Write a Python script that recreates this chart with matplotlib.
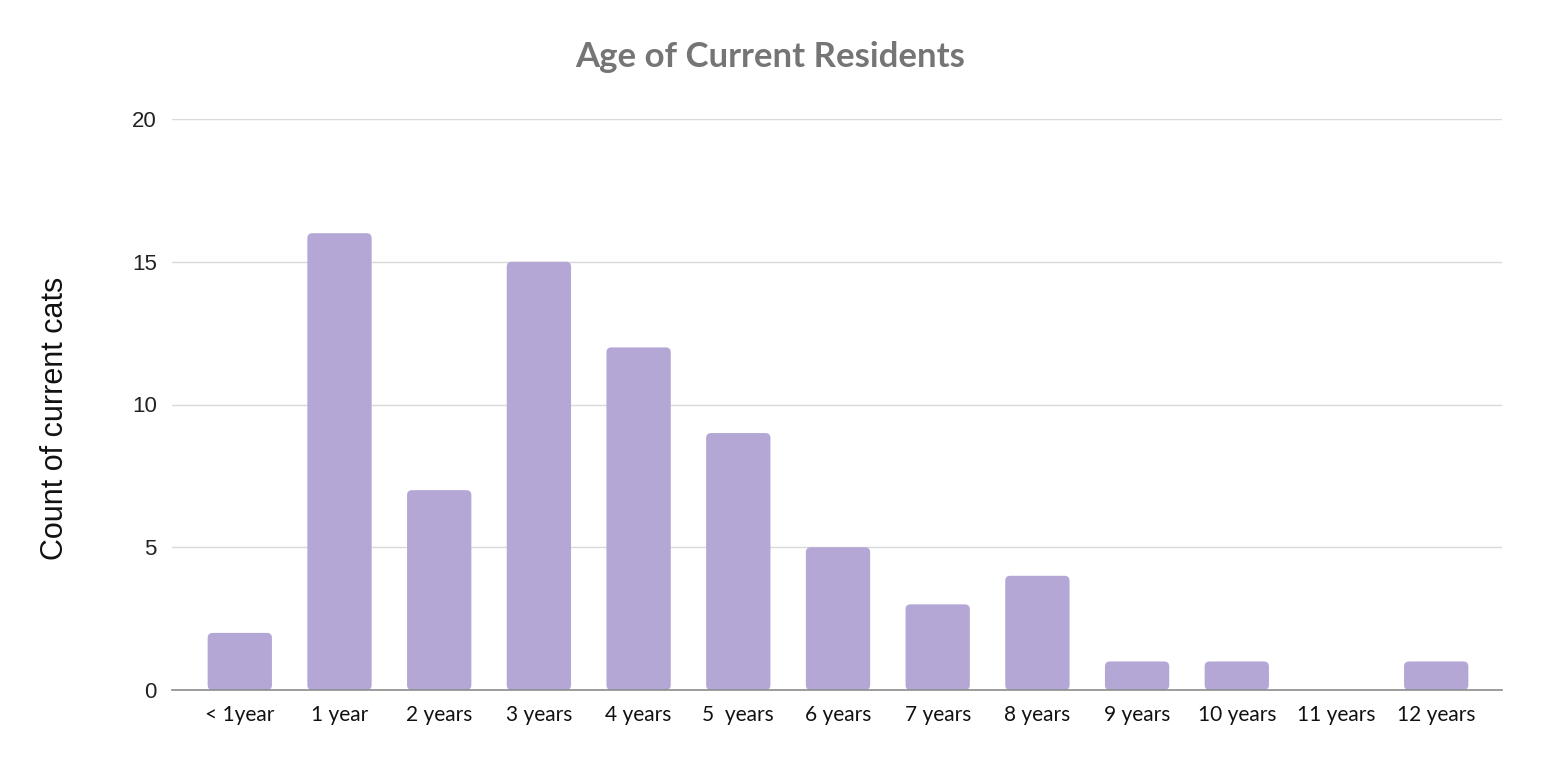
import matplotlib
matplotlib.use("Agg")
import matplotlib.pyplot as plt
from matplotlib.patches import FancyBboxPatch

categories = ["< 1year", "1 year", "2 years", "3 years", "4 years", "5  years", "6 years",
              "7 years", "8 years", "9 years", "10 years", "11 years", "12 years"]
counts = [2, 16, 7, 15, 12, 9, 5, 3, 4, 1, 1, 0, 1]
yticks = [0, 5, 10, 15, 20]

bar_color = "#b4a7d6"

fig = plt.figure(figsize=(15.41, 7.68), dpi=100)
ax = fig.add_axes([172/1541, 78/768, (1502-172)/1541, (690-119)/768])

x = list(range(len(categories)))
bars = ax.bar(x, counts, width=0.645, color=bar_color)
ax.set_xlim(-0.68, len(categories) - 1 + 0.66)
ax.set_ylim(0, 20)

# rounded top corners
xpp = (ax.get_xlim()[1] - ax.get_xlim()[0]) / (1502 - 172)
ypp = 20 / (690 - 119)
for b in bars:
    h = b.get_height()
    if h <= 0:
        b.remove()
        continue
    r = 5 * xpp
    p = FancyBboxPatch((b.get_x(), 0), b.get_width(), h,
                       boxstyle=f"round,pad=0,rounding_size={r}",
                       mutation_aspect=ypp / xpp,
                       facecolor=bar_color, edgecolor="none", zorder=2)
    ax.add_patch(p)
    b.remove()

ax.set_yticks(yticks)
ax.set_yticklabels([str(v) for v in yticks], fontfamily="Liberation Sans", fontsize=16, color="#222222")
ax.set_xticks(x)
ax.set_xticklabels(categories, fontfamily="Lato", fontsize=15, color="#111111")
ax.tick_params(axis="y", length=0, pad=11)
ax.tick_params(axis="x", length=0, pad=11)

ax.grid(axis="y", color="#d9d9d9", linewidth=1)
ax.set_axisbelow(True)
for s in ["top", "right", "left"]:
    ax.spines[s].set_visible(False)
ax.spines["bottom"].set_color("#8c8c8c")
ax.spines["bottom"].set_linewidth(1.2)
ax.spines["bottom"].set_zorder(3)

fig.text(770/1541, 1 - 57/768, "Age of Current Residents", ha="center", va="center",
         fontfamily="Lato", fontweight="bold", fontsize=25, color="#757575")
fig.text(55/1541, 1 - 418/768, "Count of current cats", ha="center", va="center",
         rotation=90, fontfamily="Liberation Sans", fontsize=22, color="#111111")

fig.savefig("out.png", dpi=100, facecolor="white")
